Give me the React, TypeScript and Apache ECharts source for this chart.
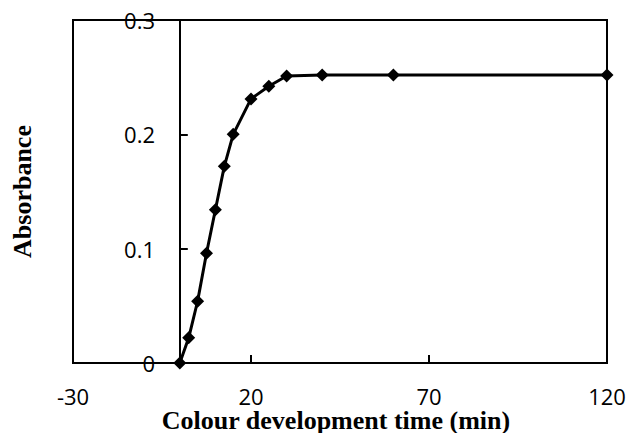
import React, { useEffect, useRef } from "react";
import * as echarts from "echarts";

const timeMin = [0, 2.5, 5, 7.5, 10, 12.5, 15, 20, 25, 30, 40, 60, 120];
const absorbance = [0, 0.022, 0.054, 0.096, 0.134, 0.172, 0.2, 0.231, 0.242, 0.251, 0.252, 0.252, 0.252];
const xTitle = "Colour development time (min)";
const yTitle = "Absorbance";

export default function App() {
  const ref = useRef<HTMLDivElement>(null);
  useEffect(() => {
    if (!ref.current) return;
    const chart = echarts.init(ref.current, null, { renderer: "svg" });
    const labelFont = { fontFamily: "Open Sans", fontSize: 22, color: "#000" };
    const titleFont = { fontFamily: "Liberation Serif", fontWeight: "bold", fontSize: 26, color: "#000" };
    chart.setOption({
      animation: false,
      backgroundColor: "#fff",
      grid: {
        left: 73,
        right: 22,
        top: 20,
        bottom: 70,
        outerBoundsMode: "none",
        containLabel: false,
        show: true,
        borderColor: "#000",
        borderWidth: 2,
        backgroundColor: "transparent",
      },
      xAxis: {
        type: "value",
        min: -30,
        max: 120,
        interval: 50,
        name: xTitle,
        nameLocation: "middle",
        nameGap: 44,
        nameMoveOverlap: false,
        nameTextStyle: { ...titleFont, padding: [0, 8, 0, 0] },
        axisLine: { show: true, onZero: true, lineStyle: { color: "#000", width: 2 } },
        axisTick: { show: true, inside: true, length: 8, lineStyle: { color: "#000", width: 2 } },
        axisLabel: { ...labelFont, margin: 22 },
        splitLine: { show: false },
      },
      yAxis: {
        type: "value",
        min: 0,
        max: 0.3,
        interval: 0.1,
        name: yTitle,
        nameLocation: "middle",
        nameGap: 38,
        nameMoveOverlap: false,
        nameTextStyle: titleFont,
        axisLine: { show: true, onZero: true, lineStyle: { color: "#000", width: 2 } },
        axisTick: { show: true, inside: true, length: 8, lineStyle: { color: "#000", width: 2 } },
        axisLabel: { ...labelFont, margin: -82, formatter: (v: number) => (v === 0 ? "0" : String(Math.round(v * 10) / 10)) },
        splitLine: { show: false },
      },
      series: [
        {
          type: "line",
          data: timeMin.map((t, i) => [t, absorbance[i]]),
          lineStyle: { color: "#000", width: 3 },
          itemStyle: { color: "#000" },
          symbol: "diamond",
          symbolSize: 13,
          smooth: false,
        },
      ],
    });
    return () => chart.dispose();
  }, []);
  return <div ref={ref} style={{ position: "fixed", left: 0, top: 0, width: 629, height: 433 }} />;
}
